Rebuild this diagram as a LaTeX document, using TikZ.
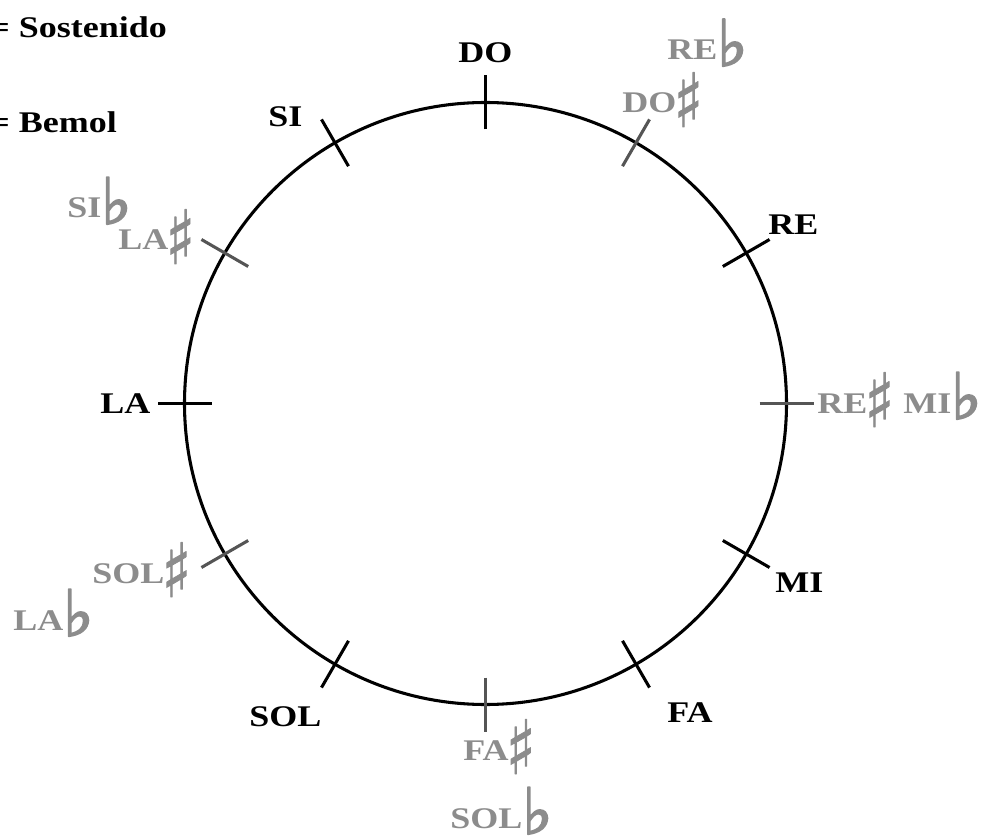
\documentclass[tikz,border=0pt]{standalone}
\usepackage{fontspec}
\usepackage{graphicx}
\setmainfont{Liberation Serif}[FakeStretch=1.2]
\newfontfamily\accfont{DejaVu Sans}[FakeBold=1.2]
\newfontfamily\flatfont{DejaVu Sans}[FakeBold=3]
\usetikzlibrary{calc}
\definecolor{altcol}{HTML}{8C8C8C}
\definecolor{alttick}{HTML}{555555}
\newcommand{\shp}{\kern-2pt\raisebox{-10.5pt}{\scalebox{0.82}[1]{\accfont\bfseries\fontsize{56}{56}\selectfont ♯}}}
\newcommand{\flt}{\raisebox{-4.5pt}{\flatfont\bfseries\fontsize{48}{48}\selectfont ♭}}
\begin{document}
\begin{tikzpicture}[x=0.75pt,y=-0.75pt,
  lbl/.style={anchor=base west, inner sep=0pt, font=\fontsize{22.5}{27}\selectfont\bfseries},
  nat/.style={lbl, text=black},
  alt/.style={lbl, text=altcol},
  ring/.style={draw=black, line width=2.3pt},
  ntick/.style={draw=black, line width=2.3pt},
  stick/.style={draw=alttick, line width=2.3pt}]
\useasboundingbox (0,0) rectangle (984,837);
\coordinate (C) at (485.5,403.5);
\draw[ring] (C) circle [radius=225.75pt];
\foreach \a in {90,30,-30,-60,-120,180,120}
  \draw[ntick] ($(C)+(-\a:274)$) -- ($(C)+(-\a:328)$);
\foreach \a in {60,0,-90,-150,150}
  \draw[stick] ($(C)+(-\a:274)$) -- ($(C)+(-\a:328)$);
% legend
\node[nat] (sost) at (-11,38) {= Sostenido};
\node[nat] (bem) at (-11,133) {= Bemol};
% natural notes
\node[nat] (do) at (458,63) {DO};
\node[nat] (si) at (268,127) {SI};
\node[nat] (re) at (768,235) {RE};
\node[nat] (mi) at (775,592) {MI};
\node[nat] (fa) at (667,722) {FA};
\node[nat] (sol) at (249,726) {SOL};
\node[nat] (la) at (100,413) {LA};
% altered notes
\node[alt] (reb) at (667,60) {RE\flt};
\node[alt] (dos) at (622,113) {DO\shp};
\node[alt] (sib) at (67,218) {SI\flt};
\node[alt] (las) at (118,250) {LA\shp};
\node[alt] (res) at (817,413) {RE\shp};
\node[alt] (mib) at (903,413) {MI\flt};
\node[alt] (sols) at (92,583) {SOL\shp};
\node[alt] (lab) at (13,630) {LA\flt};
\node[alt] (fas) at (463,760) {FA\shp};
\node[alt] (solb) at (450,828) {SOL\flt};
\end{tikzpicture}
\end{document}
